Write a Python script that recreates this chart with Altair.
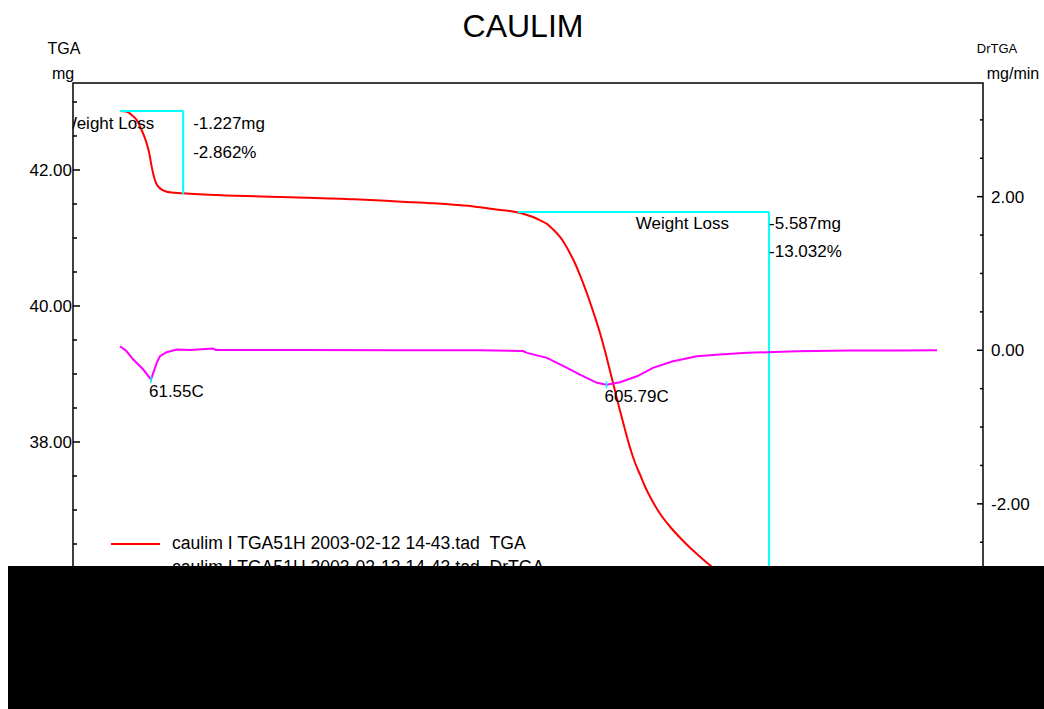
import altair as alt
import pandas as pd

FONT = "Liberation Sans"

# ---------------- data ----------------
# TGA: sample mass (mg) against furnace temperature (deg C)
tga_temp = [24.5, 32.9, 38.5, 44.5, 50.4, 56.4, 59.5, 62.4, 65.1, 70.3, 80.3, 99.4,
            162, 228, 305, 361, 399, 427, 449, 470,
            499, 508, 518, 526, 535, 542, 550, 556, 562, 568,
            574, 580, 586, 592, 598, 604, 610, 616, 622, 628,
            634, 640, 646, 652, 658, 664, 670, 682, 694, 706,
            718, 729,
            752, 776, 800, 897, 1000]
tga_mass = [42.868, 42.857, 42.809, 42.735, 42.588, 42.393, 42.245, 42.049, 41.901, 41.754, 41.681, 41.657,
            41.622, 41.599, 41.569, 41.534, 41.510, 41.485, 41.460, 41.426,
            41.378, 41.350, 41.308, 41.262, 41.203, 41.125, 41.019, 40.912, 40.779, 40.632,
            40.456, 40.265, 40.059, 39.838, 39.603, 39.338, 39.044, 38.750, 38.456, 38.176,
            37.912, 37.691, 37.515, 37.338, 37.191, 37.059, 36.941, 36.750, 36.588, 36.441,
            36.309, 36.191,
            36.00, 35.88, 35.80, 35.76, 35.74]

# DrTGA: rate of mass change (mg/min)
dtg_temp = [24.5, 31.7, 40.4, 52.4, 61.55, 64.3, 68.4, 72.3, 80.3, 92.3, 108.1, 135.6, 139.2,
            239.6, 359.0, 454.6, 506.0,
            510.8, 534.7, 558.6, 574.1, 594.4, 605.79, 621.9, 642.2, 661.3, 685.2,
            713.9, 741.4, 773.6, 797.5, 833.4, 896.7, 956.4, 1000.6]
dtg_rate = [0.052, -0.004, -0.121, -0.251, -0.382, -0.294, -0.164, -0.078, -0.026, 0.009, 0.003, 0.022, 0.003,
            0.003, 0.0, 0.0, -0.010,
            -0.034, -0.099, -0.229, -0.316, -0.424, -0.448, -0.417, -0.339, -0.229, -0.143,
            -0.078, -0.056, -0.034, -0.026, -0.013, -0.004, -0.004, 0.0]

# weight-loss steps
step_start = [24.5, 500.0]
step_end = [100.0, 800.0]
step_top = [42.868, 41.382]
step_loss = [1.227, 5.587]
step_pct = [2.862, 13.032]

# DrTGA peak temperatures
peak_temp = [61.55, 605.79]
peak_rate = [-0.382, -0.448]

# axis ticks
mass_major = [38.0, 40.0, 42.0]
mass_minor = [35.5, 36.0, 36.5, 37.0, 37.5, 38.5, 39.0, 39.5, 40.5, 41.0, 41.5, 42.5, 43.0]
rate_major = [-2.0, 0.0, 2.0]
rate_minor = [-3.5, -3.0, -2.5, -1.5, -1.0, -0.5, 0.5, 1.0, 1.5, 2.5, 3.0]

series_labels = ["caulim I TGA51H 2003-02-12 14-43.tad \u00a0TGA",
                 "caulim I TGA51H 2003-02-12 14-43.tad \u00a0DrTGA"]
series_colors = ["#ff0000", "#ff00ff"]

# ---------------- scales ----------------
W, H = 910, 563
x_scale = alt.Scale(domain=[-31.6, 1055.6], nice=False, zero=False)
mass_scale = alt.Scale(domain=[35.0, 43.279], nice=False, zero=False)
rate_scale = alt.Scale(domain=[-3.851, 3.480], nice=False, zero=False)

CYAN = "#00ffff"


def xq(field):
    return alt.X(f"{field}:Q", scale=x_scale, axis=None)


def ym(field):
    return alt.Y(f"{field}:Q", scale=mass_scale, axis=None)


def yr(field):
    return alt.Y(f"{field}:Q", scale=rate_scale, axis=None)


def txt(**kw):
    base = dict(font=FONT, fontSize=17, color="black", baseline="middle")
    base.update(kw)
    return base


def fmt(v):
    return ("-" if v < 0 else "") + f"{abs(v):.2f}"


# ---------------- TGA (left axis) ----------------
tga_df = pd.DataFrame({"temp": tga_temp, "mass": tga_mass})
tga_line = alt.Chart(tga_df).mark_line(
    color=series_colors[0], strokeWidth=2, interpolate="monotone"
).encode(x=xq("temp"), y=ym("mass"))

steps = pd.DataFrame({"start": step_start, "end": step_end, "top": step_top,
                      "loss": step_loss, "pct": step_pct})
steps["bottom"] = steps["top"] - steps["loss"]
steps["mg_label"] = [f"-{v:.3f}mg" for v in step_loss]
steps["pct_label"] = [f"-{v:.3f}%" for v in step_pct]
steps["caption"] = "Weight Loss"

bracket_h = alt.Chart(steps).mark_rule(color=CYAN, strokeWidth=2).encode(
    x=xq("start"), x2="end", y=ym("top"))
bracket_v = alt.Chart(steps).mark_rule(color=CYAN, strokeWidth=2).encode(
    x=xq("end"), y=ym("top"), y2="bottom")


def step_text(row, field, dx, dy, align, clip=False):
    return alt.Chart(steps.iloc[[row]]).mark_text(
        **txt(align=align, dx=dx, dy=dy), clip=clip
    ).encode(x=xq("end"), y=ym("top"), text=f"{field}:N")


step_texts = [
    step_text(0, "caption", -29, 13, "right", clip=True),
    step_text(0, "mg_label", 10, 13, "left"),
    step_text(0, "pct_label", 10, 42, "left"),
    step_text(1, "caption", -40, 12, "right"),
    step_text(1, "mg_label", 0, 12, "left"),
    step_text(1, "pct_label", 0, 40, "left"),
]

# left axis: inward ticks and labels
mass_ticks = pd.DataFrame({"v": mass_major, "label": [fmt(v) for v in mass_major]})
mass_mticks = pd.DataFrame({"v": mass_minor})
left_ticks = alt.Chart(mass_ticks).mark_rule(color="black", strokeWidth=1.5).encode(
    y=ym("v"), x=alt.value(0), x2=alt.value(7))
left_mticks = alt.Chart(mass_mticks).mark_rule(color="black", strokeWidth=1.5).encode(
    y=ym("v"), x=alt.value(0), x2=alt.value(4))
left_labels = alt.Chart(mass_ticks).mark_text(**txt(align="right", dy=1)).encode(
    y=ym("v"), x=alt.value(-1), text="label:N")

left = alt.layer(tga_line, bracket_h, bracket_v, *step_texts,
                 left_ticks, left_mticks, left_labels)

# ---------------- DrTGA (right axis) ----------------
dtg_df = pd.DataFrame({"temp": dtg_temp, "rate": dtg_rate})
dtg_line = alt.Chart(dtg_df).mark_line(color=series_colors[1], strokeWidth=2).encode(
    x=xq("temp"), y=yr("rate"))

peaks = pd.DataFrame({"temp": peak_temp, "rate": peak_rate})
peaks["label"] = [f"{t:.2f}C" for t in peak_temp]
peaks["hi"] = peaks["rate"] + 0.045
peaks["lo"] = peaks["rate"] - 0.045
peak_marks = alt.Chart(peaks).mark_rule(color=CYAN, strokeWidth=1.5).encode(
    x=xq("temp"), y=yr("hi"), y2="lo")
peak_labels = alt.Chart(peaks).mark_text(**txt(align="left", dx=-2, dy=12)).encode(
    x=xq("temp"), y=yr("rate"), text="label:N")

rate_ticks = pd.DataFrame({"v": rate_major, "label": [fmt(v) for v in rate_major]})
rate_mticks = pd.DataFrame({"v": rate_minor})
right_ticks = alt.Chart(rate_ticks).mark_rule(color="black", strokeWidth=1.5).encode(
    y=yr("v"), x=alt.value(W), x2=alt.value(W - 6))
right_mticks = alt.Chart(rate_mticks).mark_rule(color="black", strokeWidth=1.5).encode(
    y=yr("v"), x=alt.value(W), x2=alt.value(W - 3))
right_labels = alt.Chart(rate_ticks).mark_text(**txt(align="left", dy=1)).encode(
    y=yr("v"), x=alt.value(W + 8), text="label:N")

right = alt.layer(dtg_line, peak_marks, peak_labels, right_ticks, right_mticks, right_labels)

# ---------------- titles, legend, lower band ----------------
one = pd.DataFrame({"k": [0]})


def label(text, x, y, size=17, align="center"):
    return alt.Chart(one).mark_text(**txt(fontSize=size, align=align), text=text).encode(
        x=alt.value(x), y=alt.value(y))


overlay = [
    label("CAULIM", 450, -56, size=32),
    label("TGA", -9, -34, size=16),
    label("mg", -10, -9, size=16),
    label("DrTGA", 924, -34, size=13),
    label("mg/min", 940, -9, size=16),
]
for i, (name, col) in enumerate(zip(series_labels, series_colors)):
    yy = 461 + 24 * i
    overlay.append(alt.Chart(one).mark_rule(color=col, strokeWidth=2).encode(
        x=alt.value(38), x2=alt.value(87), y=alt.value(yy)))
    overlay.append(label(name, 99, yy, size=17.6, align="left"))

band = alt.Chart(one).mark_rect(color="black").encode(
    x=alt.value(-65), x2=alt.value(971), y=alt.value(483), y2=alt.value(626))
overlay.append(band)

chart = (
    alt.layer(left, right, *overlay)
    .resolve_scale(y="independent")
    .properties(
        width=W,
        height=H,
        padding={"left": 73, "top": 83, "right": 61, "bottom": 63},
        autosize=alt.AutoSizeParams(type="none"),
        background="white",
    )
    .configure_view(stroke="black", strokeWidth=1.5, fill="white")
)

chart.save("out.html", embed_options={"renderer": "svg", "actions": False})
